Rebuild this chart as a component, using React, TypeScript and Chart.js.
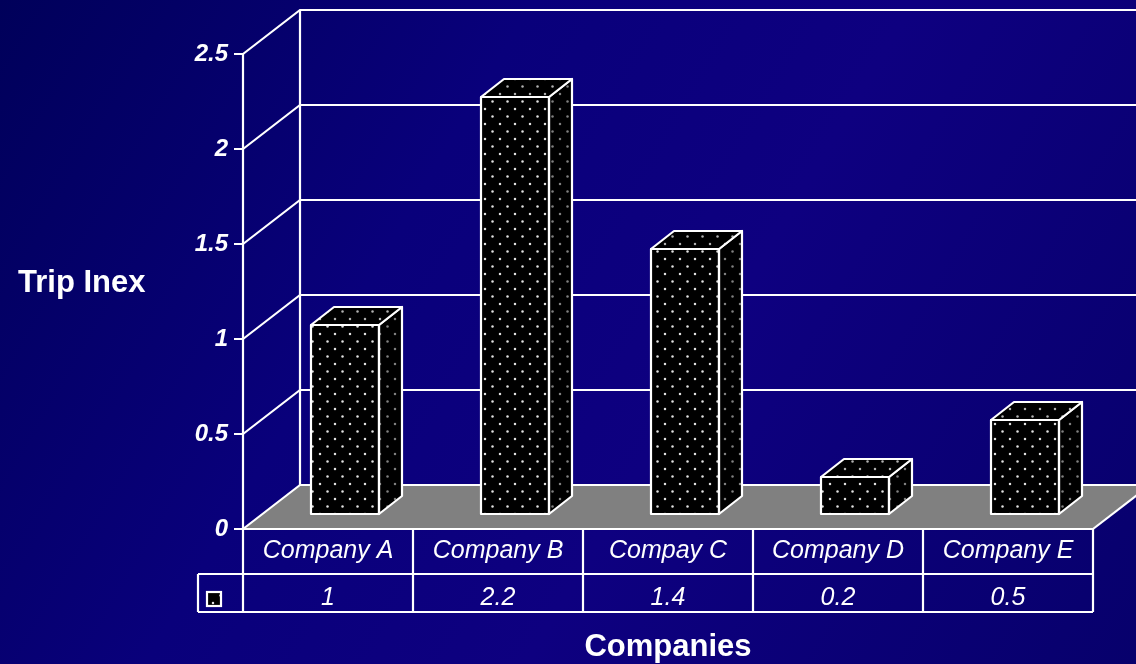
import React, { useEffect, useRef } from 'react';
import { Chart, registerables } from 'chart.js';

Chart.register(...registerables);

// ---- data ----
const categories = ['Company A', 'Company B', 'Compay C', 'Company D', 'Company E'];
const values = [1, 2.2, 1.4, 0.2, 0.5];
const valueLabels = ['1', '2.2', '1.4', '0.2', '0.5'];
const yTickValues = [0, 0.5, 1, 1.5, 2, 2.5];
const yTickLabels = ['0', '0.5', '1', '1.5', '2', '2.5'];
const yAxisTitle = 'Trip Inex';
const xAxisTitle = 'Companies';

// ---- styles / geometry ----
const W = 1136;
const H = 664;
const FONT = '"Liberation Sans", Arial, Helvetica, sans-serif';
const WALL_DX = 57;
const WALL_DY = -44;
const BAR_DX = 17;
const BAR_DY = -14;
const DEPTH_DX = 23;
const DEPTH_DY = -18;
const ROW1_BOTTOM = 574;
const ROW2_BOTTOM = 612;
const LEGEND_LEFT = 198;

function makePattern(dot: string): CanvasPattern | string {
  const c = document.createElement('canvas');
  c.width = 15;
  c.height = 15;
  const g = c.getContext('2d');
  if (!g) return '#000';
  g.fillStyle = '#000';
  g.fillRect(0, 0, 15, 15);
  g.fillStyle = dot;
  g.beginPath();
  g.arc(3, 3, 1.25, 0, Math.PI * 2);
  g.fill();
  g.beginPath();
  g.arc(10.5, 10.5, 1.25, 0, Math.PI * 2);
  g.fill();
  const ctx = document.createElement('canvas').getContext('2d');
  const p = ctx ? ctx.createPattern(c, 'repeat') : null;
  return p || '#000';
}

export default function App() {
  const ref = useRef<HTMLCanvasElement | null>(null);

  useEffect(() => {
    const canvas = ref.current;
    if (!canvas) return;
    const frontPattern = makePattern('#e0e0e0');
    const sidePattern = makePattern('#808080');
    const topPattern = makePattern('#b0b0b0');

    const plugin = {
      id: 'threeD',
      beforeDraw(chart: any) {
        const ctx = chart.ctx as CanvasRenderingContext2D;
        ctx.save();
        const g = ctx.createLinearGradient(0, 0, W, H);
        g.addColorStop(0, '#00005a');
        g.addColorStop(0.35, '#09007b');
        g.addColorStop(0.6, '#0e0080');
        g.addColorStop(1, '#07006c');
        ctx.fillStyle = g;
        ctx.fillRect(0, 0, W, H);
        ctx.restore();
      },
      beforeDatasetsDraw(chart: any) {
        const ctx = chart.ctx as CanvasRenderingContext2D;
        const { left, right } = chart.chartArea;
        const ys = chart.scales.y;
        const y0 = ys.getPixelForValue(0);
        const yTop = ys.getPixelForValue(yTickValues[yTickValues.length - 1]);
        ctx.save();
        // floor
        ctx.fillStyle = '#808080';
        ctx.beginPath();
        ctx.moveTo(left, y0);
        ctx.lineTo(right, y0);
        ctx.lineTo(right + WALL_DX, y0 + WALL_DY);
        ctx.lineTo(left + WALL_DX, y0 + WALL_DY);
        ctx.closePath();
        ctx.fill();
        ctx.strokeStyle = '#ffffff';
        ctx.lineWidth = 2.2;
        // grid lines on side + back walls
        for (const v of yTickValues) {
          const py = ys.getPixelForValue(v);
          ctx.beginPath();
          ctx.moveTo(left, py);
          ctx.lineTo(left + WALL_DX, py + WALL_DY);
          ctx.lineTo(W + WALL_DX, py + WALL_DY);
          ctx.stroke();
        }
        // back vertical edge
        ctx.beginPath();
        ctx.moveTo(left + WALL_DX, yTop + WALL_DY);
        ctx.lineTo(left + WALL_DX, y0 + WALL_DY);
        ctx.stroke();
        // front vertical axis
        ctx.beginPath();
        ctx.moveTo(left, yTop);
        ctx.lineTo(left, y0);
        ctx.stroke();
        // floor right edge
        ctx.beginPath();
        ctx.moveTo(right, y0);
        ctx.lineTo(right + WALL_DX, y0 + WALL_DY);
        ctx.stroke();
        ctx.restore();
        // shift bars back into depth
        ctx.save();
        ctx.translate(BAR_DX, BAR_DY);
      },
      afterDatasetsDraw(chart: any) {
        const ctx = chart.ctx as CanvasRenderingContext2D;
        const meta = chart.getDatasetMeta(0);
        ctx.lineWidth = 2.2;
        ctx.strokeStyle = '#ffffff';
        ctx.lineJoin = 'round';
        meta.data.forEach((el: any) => {
          const { x, y, base, width } = el.getProps(['x', 'y', 'base', 'width'], true);
          const l = x - width / 2;
          const r = x + width / 2;
          // right face
          ctx.beginPath();
          ctx.moveTo(r, y);
          ctx.lineTo(r + DEPTH_DX, y + DEPTH_DY);
          ctx.lineTo(r + DEPTH_DX, base + DEPTH_DY);
          ctx.lineTo(r, base);
          ctx.closePath();
          ctx.fillStyle = sidePattern as any;
          ctx.fill();
          ctx.stroke();
          // top face
          ctx.beginPath();
          ctx.moveTo(l, y);
          ctx.lineTo(l + DEPTH_DX, y + DEPTH_DY);
          ctx.lineTo(r + DEPTH_DX, y + DEPTH_DY);
          ctx.lineTo(r, y);
          ctx.closePath();
          ctx.fillStyle = topPattern as any;
          ctx.fill();
          ctx.stroke();
          // front outline
          ctx.strokeRect(l, y, width, base - y);
        });
        ctx.restore();
      },
      afterDraw(chart: any) {
        const ctx = chart.ctx as CanvasRenderingContext2D;
        const { left, right } = chart.chartArea;
        const xs = chart.scales.x;
        const ys = chart.scales.y;
        const y0 = ys.getPixelForValue(0);
        const n = categories.length;
        const catW = (right - left) / n;
        ctx.save();
        ctx.strokeStyle = '#ffffff';
        ctx.lineWidth = 2.2;
        const line = (x1: number, y1: number, x2: number, y2: number) => {
          ctx.beginPath();
          ctx.moveTo(x1, y1);
          ctx.lineTo(x2, y2);
          ctx.stroke();
        };
        line(left, y0, right, y0);
        line(LEGEND_LEFT, ROW1_BOTTOM, right, ROW1_BOTTOM);
        line(LEGEND_LEFT, ROW2_BOTTOM, right, ROW2_BOTTOM);
        for (let i = 0; i <= n; i++) {
          const xx = left + i * catW;
          line(xx, y0, xx, ROW2_BOTTOM);
        }
        line(LEGEND_LEFT, ROW1_BOTTOM, LEGEND_LEFT, ROW2_BOTTOM);
        // legend key
        ctx.fillStyle = frontPattern as any;
        ctx.fillRect(207, 592, 14, 14);
        ctx.strokeRect(207, 592, 14, 14);
        // texts
        ctx.fillStyle = '#ffffff';
        ctx.textAlign = 'center';
        ctx.textBaseline = 'alphabetic';
        ctx.font = `italic 25px ${FONT}`;
        categories.forEach((c, i) => {
          ctx.fillText(c, xs.getPixelForValue(i), 558);
        });
        valueLabels.forEach((v, i) => {
          ctx.fillText(v, xs.getPixelForValue(i), 605);
        });
        ctx.font = `bold 31px ${FONT}`;
        ctx.fillText(xAxisTitle, (left + right) / 2, 656);
        ctx.textAlign = 'left';
        ctx.fillText(yAxisTitle, 18, 292);
        ctx.restore();
      },
    };

    const chart = new Chart(canvas, {
      type: 'bar',
      data: {
        labels: categories,
        datasets: [
          {
            data: values,
            backgroundColor: frontPattern as any,
            borderColor: '#ffffff',
            borderWidth: 0,
            borderSkipped: false,
            barPercentage: 0.4,
            categoryPercentage: 1,
            clip: false as any,
          },
        ],
      },
      options: {
        responsive: false,
        animation: false,
        layout: { padding: { top: 54, right: 43, left: 0, bottom: 0 } },
        plugins: {
          legend: { display: false },
          tooltip: { enabled: false },
        },
        scales: {
          x: {
            afterFit: (s: any) => {
              s.height = 135;
            },
            ticks: { display: false },
            grid: { display: false },
            border: { display: false },
          },
          y: {
            min: 0,
            max: 2.5,
            afterFit: (s: any) => {
              s.width = 243;
            },
            afterBuildTicks: (s: any) => {
              s.ticks = yTickValues.map((v) => ({ value: v }));
            },
            ticks: {
              color: '#ffffff',
              padding: 6,
              font: { family: FONT, size: 24, weight: 'bold', style: 'italic' },
              callback: (_v: any, i: number) => yTickLabels[i],
            },
            grid: {
              drawOnChartArea: false,
              drawTicks: true,
              tickLength: 9,
              color: '#ffffff',
              lineWidth: 2,
            },
            border: { display: false },
          },
        },
      },
      plugins: [plugin],
    });

    return () => chart.destroy();
  }, []);

  return (
    <div style={{ position: 'absolute', left: 0, top: 0, width: W, height: H }}>
      <canvas ref={ref} width={W} height={H} style={{ display: 'block', width: W, height: H }} />
    </div>
  );
}
